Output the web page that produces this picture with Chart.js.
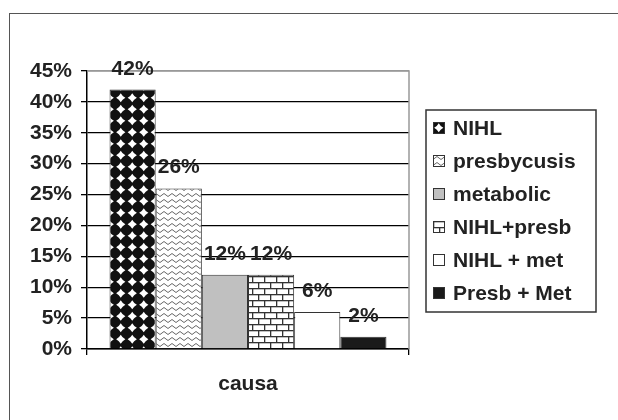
<!DOCTYPE html>
<html>
<head>
<meta charset="utf-8">
<script src="https://cdn.jsdelivr.net/npm/chart.js@4.4.1/dist/chart.umd.min.js"></script>
<style>
  html, body { margin: 0; padding: 0; background: #fff; }
  #wrap  { position: relative; width: 618px; height: 420px; overflow: hidden; }
  #frame { position: absolute; left: 9px; top: 13px; width: 700px; height: 500px; border: 1.5px solid #555; }
  #chart { position: absolute; left: 0; top: 0; }
</style>
</head>
<body>
<div id="wrap">
  <div id="frame"></div>
  <canvas id="chart" width="618" height="420"></canvas>
</div>
<script>
// ---- data ----
const categories   = ['causa'];
const seriesLabels = ['NIHL', 'presbycusis', 'metabolic', 'NIHL+presb', 'NIHL + met', 'Presb + Met'];
const seriesValues = [42, 26, 12, 12, 6, 2];
const yMax  = 45;
const yStep = 5;

const FONT = '"Liberation Sans", Arial, sans-serif';

// ---- fill patterns ----
function makeTile(w, h, draw) {
  const c = document.createElement('canvas');
  c.width = w; c.height = h;
  draw(c.getContext('2d'), w, h);
  return document.createElement('canvas').getContext('2d').createPattern(c, 'repeat');
}

// black with white rounded diamonds
const diamonds = makeTile(23, 23, (g, w, h) => {
  g.fillStyle = '#111'; g.fillRect(0, 0, w, h);
  g.fillStyle = '#fff';
  [[5.75, 5.75], [17.25, 5.75], [5.75, 17.25], [17.25, 17.25]].forEach(([x, y]) => {
    g.beginPath();
    g.moveTo(x, y - 4.6);
    g.quadraticCurveTo(x + 1.6, y - 1.6, x + 4.6, y);
    g.quadraticCurveTo(x + 1.6, y + 1.6, x, y + 4.6);
    g.quadraticCurveTo(x - 1.6, y + 1.6, x - 4.6, y);
    g.quadraticCurveTo(x - 1.6, y - 1.6, x, y - 4.6);
    g.fill();
  });
});

// white with grey zigzags
const zigzag = makeTile(8, 6, (g, w, h) => {
  g.fillStyle = '#fff'; g.fillRect(0, 0, w, h);
  g.strokeStyle = '#666'; g.lineWidth = 1;
  g.beginPath();
  g.moveTo(0, 4.5); g.lineTo(4, 1.5); g.lineTo(8, 4.5);
  g.stroke();
});

// bricks
const bricks = makeTile(12, 12, (g, w, h) => {
  g.fillStyle = '#fff'; g.fillRect(0, 0, w, h);
  g.fillStyle = '#333';
  g.fillRect(0, 0, w, 1.3);
  g.fillRect(0, 6, w, 1.3);
  g.fillRect(0, 0, 1.3, 6);
  g.fillRect(6, 6, 1.3, 6);
});

const seriesFills = [diamonds, zigzag, '#c0c0c0', bricks, '#ffffff', '#1a1a1a'];

// ---- plugins ----
const plotBorder = {
  id: 'plotBorder',
  beforeDatasetsDraw(chart) {
    const { ctx, chartArea: a } = chart;
    ctx.save();
    ctx.strokeStyle = '#999';
    ctx.lineWidth = 1.5;
    ctx.beginPath();
    ctx.moveTo(a.left, a.top);
    ctx.lineTo(a.right, a.top);
    ctx.lineTo(a.right, a.bottom);
    ctx.stroke();
    ctx.restore();
  }
};

const barLabels = {
  id: 'barLabels',
  afterDatasetsDraw(chart) {
    const { ctx } = chart;
    ctx.save();
    ctx.font = 'bold 21px ' + FONT;
    ctx.fillStyle = '#222';
    ctx.textAlign = 'center';
    ctx.textBaseline = 'alphabetic';
    chart.data.datasets.forEach((ds, i) => {
      chart.getDatasetMeta(i).data.forEach((bar, j) => {
        ctx.fillText(ds.data[j] + '%', bar.x, bar.y - 15);
      });
    });
    ctx.restore();
  }
};

const boxLegend = {
  id: 'boxLegend',
  afterDraw(chart) {
    const { ctx, chartArea: a } = chart;
    const x = a.right + 17, y = 110, w = 170, h = 202, row = 33;
    ctx.save();
    ctx.fillStyle = '#fff';
    ctx.fillRect(x, y, w, h);
    ctx.strokeStyle = '#333';
    ctx.lineWidth = 1.5;
    ctx.strokeRect(x, y, w, h);
    ctx.font = 'bold 21px ' + FONT;
    ctx.textBaseline = 'middle';
    ctx.textAlign = 'left';
    chart.data.datasets.forEach((ds, i) => {
      const cy = y + 18 + i * row;
      ctx.fillStyle = ds.backgroundColor;
      ctx.save();
      ctx.translate(x + 7, cy - 6);
      ctx.fillRect(0, 0, 12, 12);
      ctx.strokeStyle = '#333';
      ctx.lineWidth = 1;
      ctx.strokeRect(0.5, 0.5, 11, 11);
      ctx.restore();
      ctx.fillStyle = '#222';
      ctx.fillText(ds.label, x + 27, cy + 1);
    });
    ctx.restore();
  }
};

// ---- chart ----
new Chart(document.getElementById('chart'), {
  type: 'bar',
  data: {
    labels: categories,
    datasets: seriesLabels.map((label, i) => ({
      label,
      data: [seriesValues[i]],
      backgroundColor: seriesFills[i],
      borderColor: '#333',
      borderWidth: 1,
      barPercentage: 1,
      categoryPercentage: 0.86
    }))
  },
  options: {
    responsive: false,
    animation: false,
    devicePixelRatio: 1,
    layout: { padding: { top: 71, right: 209, bottom: 0, left: 0 } },
    plugins: { legend: { display: false }, tooltip: { enabled: false } },
    scales: {
      x: {
        offset: true,
        grid: { offset: true, drawOnChartArea: false, drawTicks: true, tickLength: 6, color: '#000', lineWidth: 1.3 },
        border: { color: '#000', width: 1.5 },
        ticks: { color: '#222', font: { family: FONT, size: 21, weight: 'bold' }, padding: 17 },
        afterFit(s) { s.height = 71; }
      },
      y: {
        min: 0,
        max: yMax,
        ticks: {
          stepSize: yStep,
          color: '#222',
          padding: 9,
          font: { family: FONT, size: 21, weight: 'bold' },
          callback: v => v + '%'
        },
        grid: {
          color: c => (c.tick && c.tick.value === yMax ? '#999' : '#000'),
          lineWidth: 1.3,
          tickLength: 6,
          tickColor: '#000'
        },
        border: { color: '#000', width: 1.5 },
        afterFit(s) { s.width = 87; }
      }
    }
  },
  plugins: [plotBorder, barLabels, boxLegend]
});
</script>
</body>
</html>
